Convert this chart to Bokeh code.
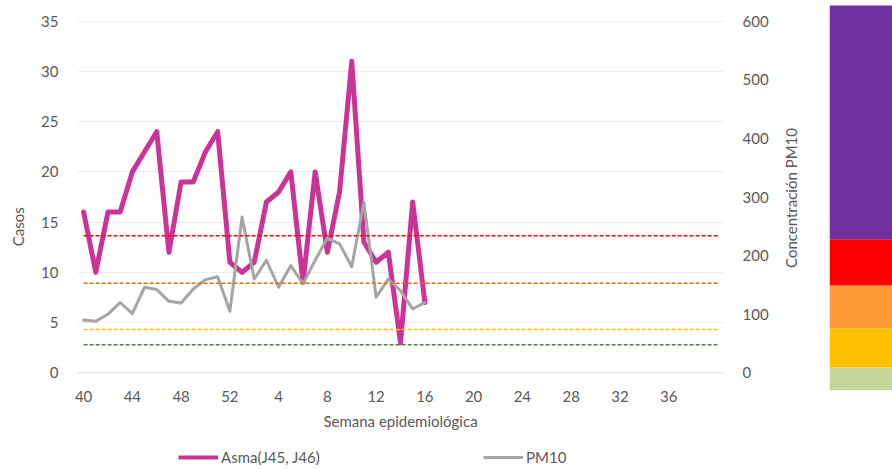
import math
from bokeh.plotting import figure
from bokeh.models import Range1d, LinearAxis, FixedTicker, Legend, LegendItem, Span
from bokeh.core.properties import value
from bokeh.layouts import row, column
from bokeh.embed import file_html
from bokeh.resources import INLINE

# ---------------- data ----------------
semanas = [str(w) for w in list(range(40, 53)) + list(range(1, 41))]
asma = [16, 10, 16, 16, 20, 22, 24, 12, 19, 19, 22, 24, 11, 10, 11, 17, 18, 20,
        9, 20, 12, 18, 31, 13, 11, 12, 3, 17, 7]
pm10 = [90, 88, 100, 120, 101, 146, 142, 122, 119, 143, 159, 164, 105, 266, 160,
        192, 146, 183, 152, 192, 230, 220, 181, 291, 129, 160, 140, 109, 120]
umbrales = [48, 74, 153, 234]
umbral_colores = ["#548235", "#FFC000", "#E46C0A", "#FF0000"]
casos_ticks = [0, 5, 10, 15, 20, 25, 30, 35]
pm_ticks = [0, 100, 200, 300, 400, 500, 600]
x_ticks = list(range(0, 49, 4))
banda_lim = [-30, 9, 76, 149, 228, 640]
banda_colores = ["#C4D79B", "#FFC000", "#FF9933", "#FF0000", "#7030A0"]
serie_nombres = ["Asma(J45, J46)", "PM10"]
titulo_izq = "Casos"
titulo_der = "Concentración PM10"
titulo_x = "Semana epidemiológica"

# visible extents of the value axes (the frame is a bit taller than the ticks)
casos_rango = (-1.76, 36.56)
pm_rango = (-30.2, 626.8)

FONT = "Lato"
TXT = "#595959"
MAGENTA = "#CC3399"
GRIS = "#A5A5A5"

x_asma = list(range(len(asma)))
x_pm = list(range(len(pm10)))
n = len(semanas)

p = figure(width=780, height=441, x_range=Range1d(-0.5, n - 0.5),
           y_range=Range1d(*casos_rango),
           output_backend="svg", toolbar_location=None,
           min_border_left=77, min_border_right=57, min_border_top=5,
           min_border_bottom=51)
p.extra_y_ranges = {"pm10": Range1d(*pm_rango)}
p.outline_line_color = None

# grid
p.xgrid.visible = False
p.ygrid.ticker = FixedTicker(ticks=casos_ticks[1:])
p.ygrid.grid_line_color = "#EDEDED"
p.ygrid.grid_line_width = 1
p.add_layout(Span(location=casos_ticks[0], dimension="width",
                  line_color="#D9D9D9", line_width=1))


def style_axis(ax, standoff, label_standoff):
    ax.axis_line_color = None
    ax.major_tick_line_color = None
    ax.minor_tick_line_color = None
    ax.major_tick_in = 0
    ax.major_tick_out = 0
    ax.minor_tick_out = 0
    ax.major_label_standoff = standoff
    ax.axis_label_standoff = label_standoff
    ax.major_label_text_font = FONT
    ax.major_label_text_font_size = "15px"
    ax.major_label_text_color = TXT
    ax.axis_label_text_font = FONT
    ax.axis_label_text_font_size = "15px"
    ax.axis_label_text_font_style = "normal"
    ax.axis_label_text_color = TXT


# left axis
ya = p.left[0]
ya.ticker = FixedTicker(ticks=casos_ticks)
ya.axis_label = titulo_izq + "\u00a0" * 15
style_axis(ya, 19, 11)

# right axis (ticks only; its title is drawn in the strip beside it)
ra = LinearAxis(y_range_name="pm10", ticker=FixedTicker(ticks=pm_ticks))
style_axis(ra, 19, 0)
p.add_layout(ra, "right")

# bottom axis
xa = p.below[0]
xa.ticker = FixedTicker(ticks=x_ticks)
xa.major_label_overrides = {i: semanas[i] for i in x_ticks}
xa.axis_label = titulo_x
style_axis(xa, 0, 7)

# series
p.line(x_asma, asma, line_color=MAGENTA, line_width=5,
       line_join="round", line_cap="round")
p.line(x_pm, pm10, line_color=GRIS, line_width=3,
       line_join="round", line_cap="round", y_range_name="pm10")
for v, c in zip(umbrales, umbral_colores):
    p.line([0, n - 1], [v, v], line_color=c, line_width=1.5, line_dash="4 2",
           y_range_name="pm10")

# right-axis title strip
tf = figure(width=20, height=441, x_range=Range1d(0, 1), y_range=Range1d(0, 1),
            output_backend="svg", toolbar_location=None,
            x_axis_location=None, y_axis_location=None,
            min_border_left=0, min_border_right=0, min_border_top=5,
            min_border_bottom=51)
tf.outline_line_color = None
tf.grid.visible = False
tf.text(x=[0.5], y=[0.5], text=[titulo_der], angle=math.pi / 2,
        text_align="center", text_baseline="middle",
        text_font=value(FONT), text_font_size="15px", text_color=TXT)

# colour band
cb = figure(width=92, height=441, x_range=Range1d(0, 1),
            y_range=Range1d(*pm_rango), output_backend="svg",
            toolbar_location=None, x_axis_location=None, y_axis_location=None,
            min_border_left=29, min_border_right=0, min_border_top=5,
            min_border_bottom=51)
cb.outline_line_color = None
cb.grid.visible = False
cb.quad(left=0, right=1, bottom=banda_lim[:-1], top=banda_lim[1:],
        fill_color=banda_colores, line_color=None)

# legend strip (series re-drawn out of view, only their legend swatches show)
lf = figure(width=892, height=28, x_range=Range1d(-3, -2), y_range=Range1d(-3, -2),
            output_backend="svg", toolbar_location=None,
            x_axis_location=None, y_axis_location=None,
            min_border_left=0, min_border_right=0, min_border_top=0,
            min_border_bottom=0)
lf.outline_line_color = None
lf.grid.visible = False
la = lf.line(x_asma, asma, line_color=MAGENTA, line_width=4)
lp = lf.line(x_pm, pm10, line_color=GRIS, line_width=3)
legend = Legend(items=[LegendItem(label=serie_nombres[0], renderers=[la]),
                       LegendItem(label=serie_nombres[1], renderers=[lp])],
                orientation="horizontal", location=(178, 2),
                glyph_width=40, glyph_height=20, label_standoff=3,
                label_width=262, spacing=0, padding=0, margin=0,
                border_line_color=None, background_fill_alpha=0)
legend.label_text_font = FONT
legend.label_text_font_size = "15px"
legend.label_text_color = TXT
lf.add_layout(legend, "center")

layout = column(row(p, tf, cb), lf)
open("out.html", "w").write(file_html(layout, INLINE))
